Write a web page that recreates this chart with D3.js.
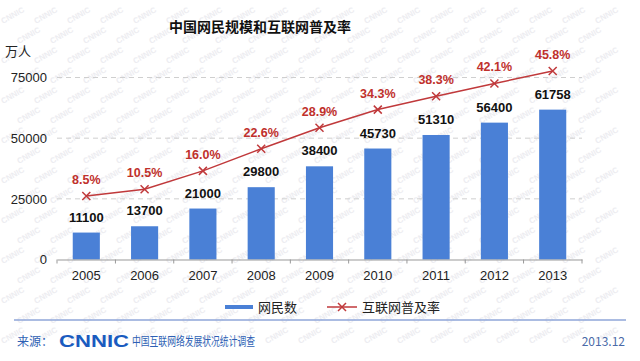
<!DOCTYPE html>
<html><head><meta charset="utf-8">
<script src="https://cdn.jsdelivr.net/npm/d3@7/dist/d3.min.js"></script>
<style>body{margin:0;background:#fff}svg{display:block}</style>
</head><body><svg id="c" width="640" height="361"></svg>
<script>
const years = ["2005","2006","2007","2008","2009","2010","2011","2012","2013"];
const users = [11100,13700,21000,29800,38400,45730,51310,56400,61758];
const rates = [8.5,10.5,16.0,22.6,28.9,34.3,38.3,42.1,45.8];
const yTicks = [0,25000,50000,75000];

const svg = d3.select("#c");
const F = "'Noto Sans CJK SC','Noto Sans',sans-serif";
const FL = "'Liberation Sans','Noto Sans CJK SC',sans-serif";

// faint watermark, kept inside the canvas
const wm = svg.append("g").attr("fill","#ededf1").attr("font-family",FL).attr("font-size",8).attr("font-weight","bold");
for(let r=0;r<18;r++){for(let c=0;c<20;c++){
  const tx = 3 + c*33 + (r%2)*16, ty = 24 + r*20;
  if (tx > 608 || ty > 357) continue;
  wm.append("text").attr("transform",`translate(${tx},${ty}) rotate(-30)`).text("CNNIC");
}}

const x = d3.scaleBand().domain(years).range([57,582]).paddingInner(0.535).paddingOuter(0.27);
const y = d3.scaleLinear().domain([0,75000]).range([259.5,77.5]);
const y2 = d3.scaleLinear().domain([0,50]).range([224.5,57]);

// grid
svg.append("g").selectAll("line").data(yTicks.filter(d=>d>0)).join("line")
  .attr("x1",57).attr("x2",582).attr("y1",d=>y(d)).attr("y2",d=>y(d))
  .attr("stroke","#cfcfcf").attr("stroke-dasharray","5,4").attr("stroke-width",1);

// y axis labels
const ya = svg.append("g").attr("transform","translate(47,0)")
  .call(d3.axisLeft(y).tickValues(yTicks).tickSize(0).tickPadding(0).tickFormat(d3.format("d")));
ya.select(".domain").remove();
ya.selectAll("text").attr("font-family",FL).attr("font-size",13).attr("fill","#222");

// bars
svg.append("g").selectAll("rect").data(users).join("rect")
  .attr("x",(d,i)=>x(years[i])).attr("width",x.bandwidth())
  .attr("y",d=>y(d)).attr("height",d=>y(0)-y(d)).attr("fill","#4a80d6");

// x axis
const xa = svg.append("g").attr("transform","translate(0,259.5)")
  .call(d3.axisBottom(x).tickSize(0).tickPadding(11));
xa.select(".domain").attr("stroke","#999");
xa.selectAll("text").attr("font-family",FL).attr("font-size",13).attr("fill","#222");
const bounds = years.map((d,i)=>x(d)-x.step()*x.paddingInner()/2).concat([582]);
bounds[0]=57;
xa.selectAll(".bt").data(bounds).join("line").attr("x1",d=>d).attr("x2",d=>d).attr("y1",0).attr("y2",4).attr("stroke","#999");

// value labels
svg.append("g").selectAll("text").data(users).join("text")
  .attr("x",(d,i)=>x(years[i])+x.bandwidth()/2).attr("y",d=>y(d)-11)
  .attr("text-anchor","middle").attr("font-family",FL).attr("font-weight","bold").attr("font-size",13).attr("fill","#111")
  .text(d=>d);

// line
const cx = (d,i)=>x(years[i])+x.bandwidth()/2;
svg.append("path").datum(rates)
  .attr("d",d3.line().x(cx).y(d=>y2(d)))
  .attr("fill","none").attr("stroke","#c0393b").attr("stroke-width",1.5);
const mk = svg.append("g").selectAll("g").data(rates).join("g")
  .attr("transform",(d,i)=>`translate(${cx(d,i)},${y2(d)})`);
mk.append("path").attr("d","M-4,-4L4,4M-4,4L4,-4").attr("stroke","#c0393b").attr("stroke-width",1.5);
svg.append("g").selectAll("text").data(rates).join("text")
  .attr("x",cx).attr("y",d=>y2(d)-12)
  .attr("text-anchor","middle").attr("font-family",FL).attr("font-weight","bold").attr("font-size",12.5).attr("fill","#c0302c")
  .text(d=>d.toFixed(1)+"%");

// title
svg.append("text").attr("x",260).attr("y",32).attr("text-anchor","middle")
  .attr("font-family",F).attr("font-weight","bold").attr("font-size",14).attr("fill","#111").text("中国网民规模和互联网普及率");
svg.append("text").attr("x",5).attr("y",56).attr("font-family",F).attr("font-size",13).attr("fill","#222").text("万人");

// legend
const lg = svg.append("g");
lg.append("line").attr("x1",225).attr("x2",253).attr("y1",307).attr("y2",307).attr("stroke","#4a80d6").attr("stroke-width",4);
lg.append("text").attr("x",258).attr("y",312).attr("font-family",F).attr("font-size",13).attr("fill","#222").text("网民数");
lg.append("line").attr("x1",327).attr("x2",357).attr("y1",307).attr("y2",307).attr("stroke","#c0393b").attr("stroke-width",1.5);
lg.append("path").attr("d","M338,303L346,311M338,311L346,303").attr("stroke","#c0393b").attr("stroke-width",1.5);
lg.append("text").attr("x",362).attr("y",312).attr("font-family",F).attr("font-size",13).attr("fill","#222").text("互联网普及率");

// footer
svg.append("line").attr("x1",14).attr("x2",626).attr("y1",320).attr("y2",320).attr("stroke","#8fa6d8").attr("stroke-width",1.5);
svg.append("text").attr("x",17).attr("y",346).attr("font-family",F).attr("font-size",12).attr("fill","#2d5fb4").text("来源：");
svg.append("text").attr("x",59).attr("y",347).attr("font-family",FL).attr("font-weight","bold").attr("font-size",17).attr("fill","#1a5bbf").attr("textLength",70).attr("lengthAdjust","spacingAndGlyphs").text("CNNIC");
svg.append("text").attr("x",132).attr("y",346).attr("font-family",F).attr("font-size",12).attr("fill","#2d5fb4").attr("textLength",123).attr("lengthAdjust","spacingAndGlyphs").text("中国互联网络发展状况统计调查");
svg.append("text").attr("x",625).attr("y",346).attr("text-anchor","end").attr("font-family",F).attr("font-size",12).attr("fill","#4a6aa8").text("2013.12");
</script></body></html>
